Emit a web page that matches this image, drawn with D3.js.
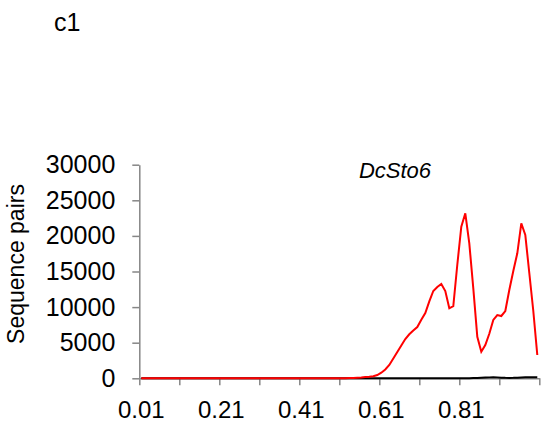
<!DOCTYPE html>
<html>
<head>
<meta charset="utf-8">
<script src="https://cdn.jsdelivr.net/npm/d3@7"></script>
<style>
  body { margin: 0; background: #fff; }
  svg { display: block; font-family: Arial, "Liberation Sans", sans-serif; }
</style>
</head>
<body>
<div id="chart"></div>
<script>
// categories 0.01 ... 1.00
var categories = d3.range(100).map(function(i) { return ((i + 1) / 100).toFixed(2); });
var xLabels = ['0.01', '0.21', '0.41', '0.61', '0.81'];
var yTicks = [0, 5000, 10000, 15000, 20000, 25000, 30000];

// red series (DcSto6)
var redValues = [
    0, 0, 0, 0, 0, 0, 0, 0, 0, 0,
    0, 0, 0, 0, 0, 0, 0, 0, 0, 0,
    0, 0, 0, 0, 0, 0, 0, 0, 0, 0,
    0, 0, 0, 0, 0, 0, 0, 0, 0, 0,
    0, 0, 0, 0, 0, 0, 0, 0, 0, 0,
    10, 20, 30, 50, 70, 100, 180, 225, 300, 460,
    790, 1240, 1870, 2780, 3690, 4600, 5520, 6180, 6710, 7200,
    8220, 9170, 10810, 12260, 12820, 13240, 12260, 9830, 10150, 15950,
    21290, 23170, 18960, 12640, 5840, 3740, 4680, 6260, 8190, 8890,
    8750, 9450, 12400, 15070, 17560, 21770, 20130, 14790, 9450, 3270
];

// black series
var blackValues = [
    0, 0, 0, 0, 0, 0, 0, 0, 0, 0,
    0, 0, 0, 0, 0, 0, 0, 0, 0, 0,
    0, 0, 0, 0, 0, 0, 0, 0, 0, 0,
    0, 0, 0, 0, 0, 0, 0, 0, 0, 0,
    0, 0, 0, 0, 0, 0, 0, 0, 0, 0,
    0, 0, 0, 0, 0, 0, 0, 0, 0, 0,
    0, 0, 0, 0, 0, 0, 0, 0, 0, 0,
    5, 5, 5, 5, 5, 10, 10, 10, 10, 15,
    15, 15, 20, 25, 40, 70, 100, 130, 150, 130,
    90, 60, 50, 60, 90, 110, 130, 150, 150, 130
];

var width = 550, height = 427;
var plotLeft = 139.3, plotRight = 539.3, plotTop = 164.7, plotBottom = 378.3;

var svg = d3.select('#chart').append('svg').attr('width', width).attr('height', height);

var x = d3.scaleBand().domain(categories).range([plotLeft, plotRight]).padding(0);
var xTick = d3.scaleLinear().domain([0, 100]).range([plotLeft, plotRight]);
var y = d3.scaleLinear().domain([0, 30000]).range([plotBottom, plotTop]);

// y axis
var yAxis = svg.append('g')
    .attr('transform', 'translate(' + plotLeft + ',0)')
    .call(d3.axisLeft(y).tickValues(yTicks).tickSize(7).tickSizeOuter(0).tickPadding(17).tickFormat(d3.format('d')));
yAxis.select('.domain').attr('stroke', '#868686').attr('stroke-width', 1.5);
yAxis.selectAll('.tick line').attr('stroke', '#868686').attr('stroke-width', 1.5);
yAxis.selectAll('.tick text').attr('font-size', 25).attr('fill', '#000')
    .attr('font-family', 'Arial, "Liberation Sans", sans-serif');

// x axis: tick marks between categories
var xAxis = svg.append('g')
    .attr('transform', 'translate(0,' + plotBottom + ')')
    .call(d3.axisBottom(xTick).tickValues(d3.range(0, 101, 10)).tickSize(7).tickSizeOuter(0).tickFormat(''));
xAxis.select('.domain').attr('stroke', '#868686').attr('stroke-width', 1.5);
xAxis.selectAll('.tick line').attr('stroke', '#868686').attr('stroke-width', 1.5);

// x labels at category centres
var xLab = svg.append('g')
    .attr('transform', 'translate(0,' + plotBottom + ')')
    .call(d3.axisBottom(x).tickValues(xLabels).tickSize(0).tickPadding(23));
xLab.select('.domain').remove();
xLab.selectAll('.tick text').attr('font-size', 24).attr('fill', '#000')
    .attr('font-family', 'Arial, "Liberation Sans", sans-serif');

var line = d3.line()
    .x(function(d, i) { return x(categories[i]) + x.bandwidth() / 2; })
    .y(function(d) { return y(d); });

svg.append('path').datum(blackValues)
    .attr('d', line).attr('fill', 'none').attr('stroke', '#000').attr('stroke-width', 2);
svg.append('path').datum(redValues)
    .attr('d', line).attr('fill', 'none').attr('stroke', '#ff0000').attr('stroke-width', 2);

// titles
svg.append('text').attr('x', 54).attr('y', 31).attr('font-size', 25).text('c1');
svg.append('text').attr('x', 395).attr('y', 178).attr('text-anchor', 'middle')
    .attr('font-size', 22).attr('font-style', 'italic').text('DcSto6');
svg.append('text')
    .attr('transform', 'translate(24,264) rotate(-90)')
    .attr('text-anchor', 'middle').attr('font-size', 23).text('Sequence pairs');
</script>
</body>
</html>
